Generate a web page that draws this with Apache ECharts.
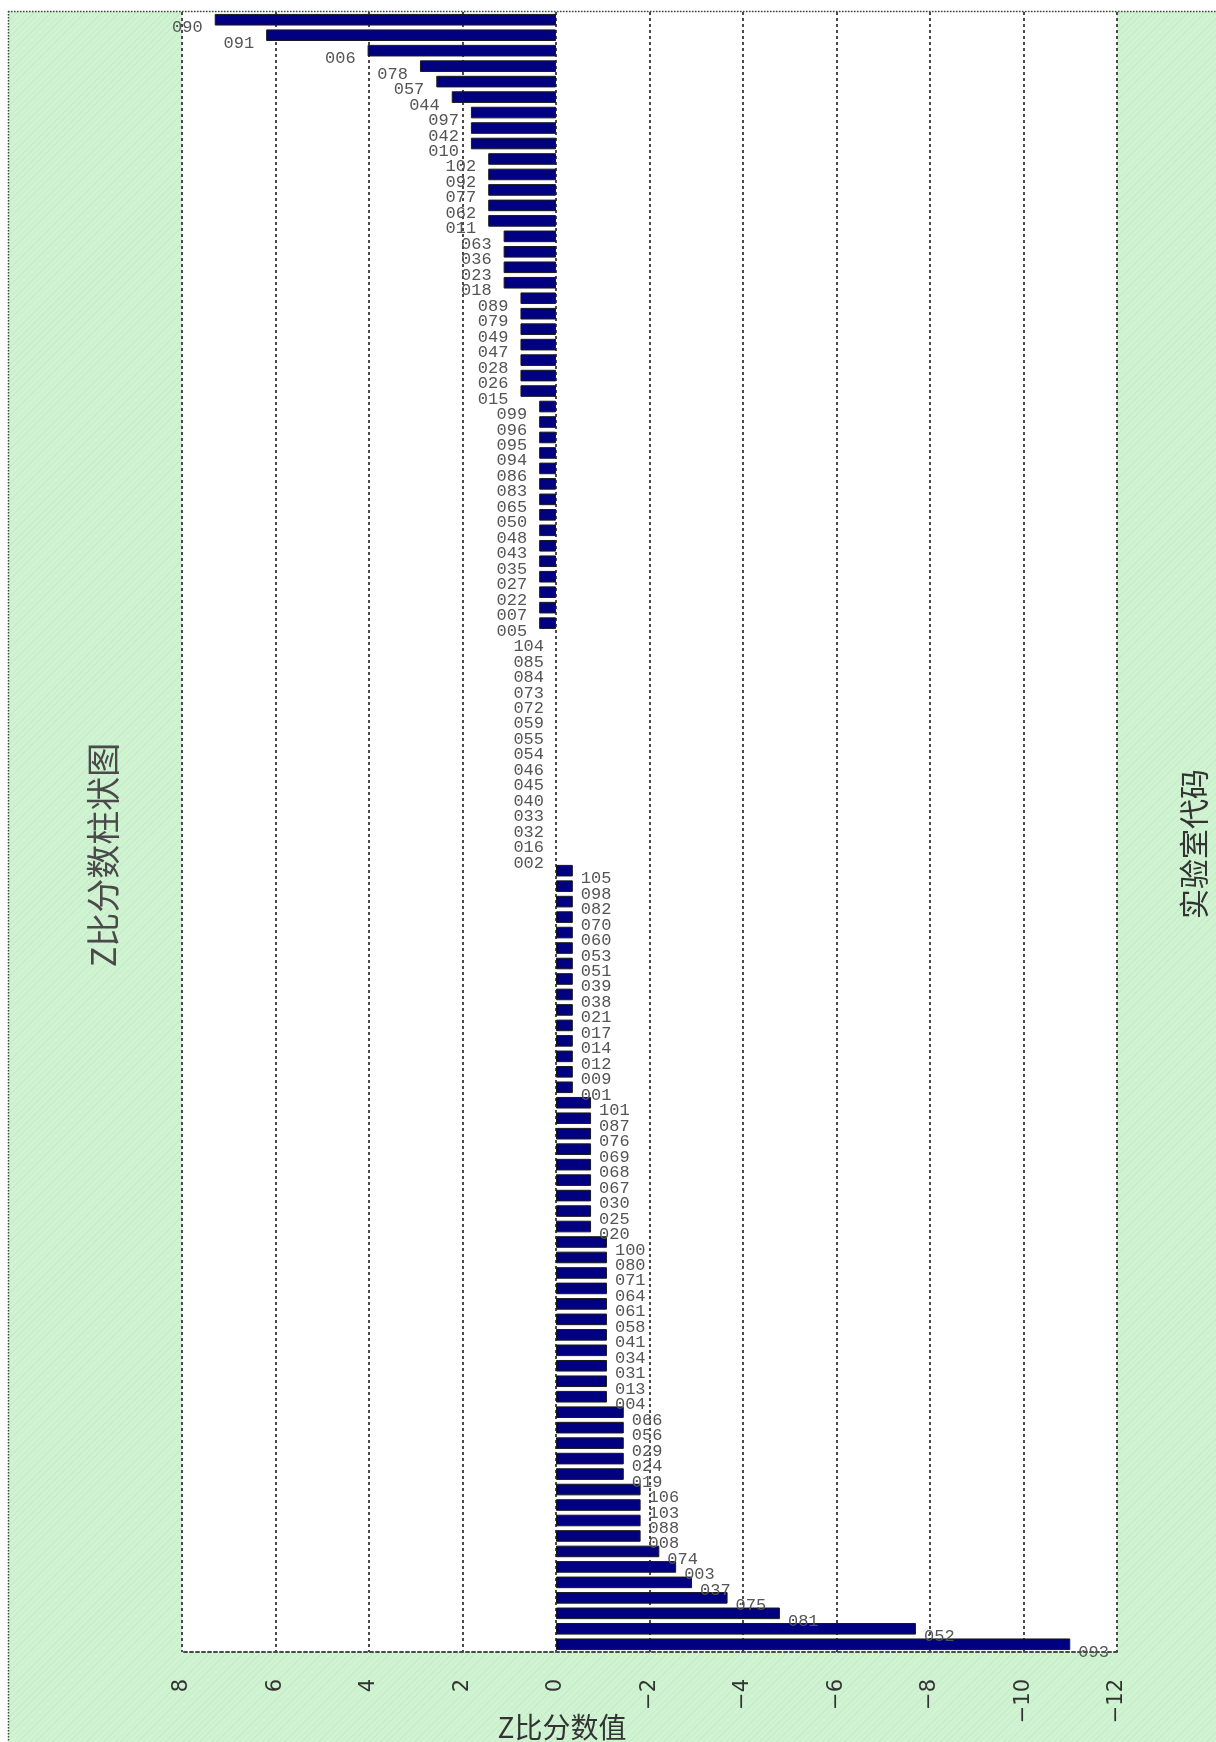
<!DOCTYPE html>
<html>
<head>
<meta charset="utf-8">
<script src="https://cdn.jsdelivr.net/npm/echarts@6/dist/echarts.min.js"></script>
<style>
  html, body { margin: 0; padding: 0; background: #fff; }
  #bg {
    position: absolute; left: 8px; top: 11px; width: 1208px; height: 1731px;
    background: repeating-linear-gradient(135deg, #d0f3d2 0px, #d0f3d2 3px, #c6ecc9 3px, #c6ecc9 4px);
  }
  #chart { position: absolute; left: 0; top: 0; width: 1216px; height: 1742px; }
</style>
</head>
<body>
<div id="bg"></div>
<div id="chart"></div>
<script>
// Laboratory codes, listed from the top bar to the bottom bar
const labCodes = [
  '090','091','006','078','057','044','097','042','010','102',
  '092','077','062','011','063','036','023','018','089','079',
  '049','047','028','026','015','099','096','095','094','086',
  '083','065','050','048','043','035','027','022','007','005',
  '104','085','084','073','072','059','055','054','046','045',
  '040','033','032','016','002','105','098','082','070','060',
  '053','051','039','038','021','017','014','012','009','001',
  '101','087','076','069','068','067','030','025','020','100',
  '080','071','064','061','058','041','034','031','013','004',
  '066','056','029','024','019','106','103','088','008','074',
  '003','037','075','081','052','093'
];

// Z-score of each laboratory, same order as labCodes
const zScores = [
  7.30, 6.20, 4.03, 2.91, 2.56, 2.23, 1.82, 1.82, 1.82, 1.45,
  1.45, 1.45, 1.45, 1.45, 1.12, 1.12, 1.12, 1.12, 0.76, 0.76,
  0.76, 0.76, 0.76, 0.76, 0.76, 0.36, 0.36, 0.36, 0.36, 0.36,
  0.36, 0.36, 0.36, 0.36, 0.36, 0.36, 0.36, 0.36, 0.36, 0.36,
  0, 0, 0, 0, 0, 0, 0, 0, 0, 0,
  0, 0, 0, 0, 0, -0.36, -0.36, -0.36, -0.36, -0.36,
  -0.36, -0.36, -0.36, -0.36, -0.36, -0.36, -0.36, -0.36, -0.36, -0.36,
  -0.75, -0.75, -0.75, -0.75, -0.75, -0.75, -0.75, -0.75, -0.75, -1.09,
  -1.09, -1.09, -1.09, -1.09, -1.09, -1.09, -1.09, -1.09, -1.09, -1.09,
  -1.45, -1.45, -1.45, -1.45, -1.45, -1.81, -1.81, -1.81, -1.81, -2.21,
  -2.57, -2.91, -3.67, -4.79, -7.70, -11.00
];

// Value axis range and tick step
const zMin = -12;
const zMax = 8;
const zStep = 2;

const chartTitle = 'Z比分数柱状图';
const valueAxisName = 'Z比分数值';
const categoryAxisName = '实验室代码';

const chart = echarts.init(document.getElementById('chart'), null, { renderer: 'canvas' });

// Negative bars carry their code on the right end, the others on the left end;
// zero-length bars get no outline so no stray stroke is drawn at the origin.
const barData = zScores.map(function (v) {
  const item = {
    value: v,
    label: { position: v < 0 ? 'right' : 'left', distance: v < 0 ? 8 : 12 }
  };
  if (v === 0) item.itemStyle = { borderWidth: 0 };
  return item;
});

const dotted = { color: '#4a4a4a', type: [3, 3], width: 2 };

const option = {
  animation: false,
  backgroundColor: 'transparent',
  grid: {
    left: 182, right: 99, top: 12, bottom: 90,
    show: true, backgroundColor: '#ffffff', borderWidth: 0
  },
  xAxis: {
    type: 'value',
    min: zMin, max: zMax, interval: zStep,
    inverse: true,
    axisLine: { show: true, onZero: false, lineStyle: dotted },
    axisTick: { show: false },
    splitLine: { show: true, lineStyle: dotted },
    axisLabel: {
      rotate: 90, margin: 27, fontSize: 21, color: '#333',
      fontFamily: 'DejaVu Sans',
      formatter: function (v) { return String(v).replace('-', '\u2212'); }
    }
  },
  yAxis: {
    type: 'category',
    data: labCodes,
    inverse: true,
    axisLine: { show: false },
    axisTick: { show: false },
    axisLabel: { show: false },
    splitLine: { show: false }
  },
  series: [{
    type: 'bar',
    data: barData,
    barCategoryGap: '25%',
    itemStyle: { color: '#000080', borderColor: '#1a1a1a', borderWidth: 1 },
    label: {
      show: true,
      formatter: '{b}',
      fontFamily: 'Liberation Mono',
      fontSize: 17,
      color: '#555',
      offset: [0, 8]
    }
  }],
  graphic: [
    {
      type: 'line', silent: true, z: 100,
      shape: { x1: 8, y1: 11.5, x2: 1216, y2: 11.5 },
      style: { stroke: '#444', lineWidth: 1.5, lineDash: [1.5, 1.5] }
    },
    {
      type: 'line', silent: true, z: 100,
      shape: { x1: 8.5, y1: 11, x2: 8.5, y2: 1742 },
      style: { stroke: '#444', lineWidth: 1.5, lineDash: [1.5, 1.5] }
    },
    {
      type: 'text', silent: true,
      x: 103, y: 855, rotation: Math.PI / 2,
      style: {
        text: chartTitle, fill: '#4a4a4a',
        font: '34px "Noto Sans CJK SC"',
        align: 'center', verticalAlign: 'middle'
      }
    },
    {
      type: 'text', silent: true,
      x: 1194, y: 844, rotation: Math.PI / 2,
      style: {
        text: categoryAxisName, fill: '#333',
        font: '30px "Noto Sans CJK SC"',
        align: 'center', verticalAlign: 'middle'
      }
    },
    {
      type: 'text', silent: true,
      x: 562, y: 1727,
      style: {
        text: valueAxisName, fill: '#333',
        font: '28px "Noto Sans CJK SC"',
        align: 'center', verticalAlign: 'middle'
      }
    }
  ]
};

chart.setOption(option);
</script>
</body>
</html>
